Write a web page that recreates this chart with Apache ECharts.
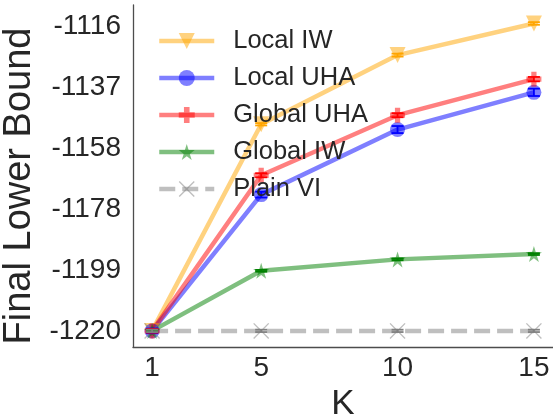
<!DOCTYPE html>
<html>
<head>
<meta charset="utf-8">
<script src="https://cdn.jsdelivr.net/npm/echarts@6/dist/echarts.min.js"></script>
<style>
html,body{margin:0;padding:0;background:#fff;}
#chart{width:553px;height:415px;}
</style>
</head>
<body>
<div id="chart"></div>
<script>
// ---- data ----
var kValues = [1, 5, 10, 15];
var localIW   = [-1220, -1149.5, -1125.9, -1115.1];
var localUHA  = [-1220, -1173.5, -1151.3, -1138.6];
var globalUHA = [-1220, -1166.9, -1146.4, -1134.1];
var globalIW  = [-1220, -1199.5, -1195.6, -1193.8];
var plainVI   = [-1220, -1220, -1220, -1220];
var localIWErr   = [0.4, 0.4, 0.5, 0.45];
var localUHAErr  = [0.8, 1.0, 1.2, 1.25];
var globalUHAErr = [0.6, 0.7, 0.7, 0.75];
var globalIWErr  = [0.3, 0.3, 0.3, 0.3];
var plainVIErr   = [0.4, 0.4, 0.4, 0.4];
var yTicks = [-1220, -1199.2, -1178.4, -1157.6, -1136.8, -1116];
var xTicks = [1, 5, 10, 15];
var seriesNames = ['Local IW', 'Local UHA', 'Global UHA', 'Global IW', 'Plain VI'];

var FONT = 'Liberation Sans';
var starPath = 'path://M0,-1L0.2245,-0.309L0.951,-0.309L0.363,0.118L0.588,0.809L0,0.382L-0.588,0.809L-0.363,0.118L-0.951,-0.309L-0.2245,-0.309Z';
var plusPath = 'path://M-0.35,-1H0.35V-0.35H1V0.35H0.35V1H-0.35V0.35H-1V-0.35H-0.35Z';
var xPath = 'path://M-1,-0.88L-0.88,-1L0,-0.12L0.88,-1L1,-0.88L0.12,0L1,0.88L0.88,1L0,0.12L-0.88,1L-1,0.88L-0.12,0Z';

var defs = [
  {name: seriesNames[0], vals: localIW, err: localIWErr, line: 'rgba(255,165,0,0.5)', cap: '#FFA500', symbol: 'triangle', rotate: 180, size: 16, dash: 'solid'},
  {name: seriesNames[1], vals: localUHA, err: localUHAErr, line: 'rgba(0,0,255,0.5)', cap: '#0000FF', symbol: 'circle', rotate: 0, size: 15, dash: 'solid'},
  {name: seriesNames[2], vals: globalUHA, err: globalUHAErr, line: 'rgba(255,0,0,0.5)', cap: '#FF0000', symbol: plusPath, rotate: 0, size: 15, dash: 'solid'},
  {name: seriesNames[3], vals: globalIW, err: globalIWErr, line: 'rgba(0,128,0,0.5)', cap: '#008000', symbol: starPath, rotate: 0, size: 16, dash: 'solid'},
  {name: seriesNames[4], vals: plainVI, err: plainVIErr, line: 'rgba(128,128,128,0.5)', cap: '#808080', symbol: xPath, rotate: 0, size: 16, dash: [16, 7]}
];

var series = [];
defs.forEach(function (d) {
  series.push({
    name: d.name,
    type: 'line',
    data: kValues.map(function (k, i) { return [k, d.vals[i]]; }),
    symbol: d.symbol,
    symbolRotate: d.rotate,
    symbolSize: d.size,
    showSymbol: true,
    lineStyle: {color: d.line, width: 4.5, type: d.dash},
    itemStyle: {color: d.line, borderWidth: 0},
    emphasis: {disabled: true},
    z: 2
  });
});
defs.forEach(function (d) {
  series.push({
    type: 'custom',
    silent: true,
    z: 3,
    data: kValues.map(function (k, i) { return [k, d.vals[i], d.err[i]]; }),
    renderItem: function (params, api) {
      var x = api.value(0), y = api.value(1), e = api.value(2);
      var top = api.coord([x, y + e]);
      var bot = api.coord([x, y - e]);
      var hw = 6;
      var st = {stroke: d.cap, lineWidth: 1.8};
      return {
        type: 'group',
        children: [
          {type: 'line', shape: {x1: top[0], y1: top[1], x2: bot[0], y2: bot[1]}, style: st},
          {type: 'line', shape: {x1: top[0] - hw, y1: top[1], x2: top[0] + hw, y2: top[1]}, style: st},
          {type: 'line', shape: {x1: bot[0] - hw, y1: bot[1], x2: bot[0] + hw, y2: bot[1]}, style: st}
        ]
      };
    }
  });
});

var chart = echarts.init(document.getElementById('chart'), null, {renderer: 'canvas'});
chart.setOption({
  animation: false,
  backgroundColor: '#fff',
  grid: {left: 133, right: 0, top: 5, bottom: 68, containLabel: false, outerBoundsMode: 'none'},
  legend: {
    data: seriesNames,
    orient: 'vertical',
    left: 157,
    top: 28,
    padding: 0,
    itemWidth: 55,
    itemHeight: 20,
    itemGap: 11,
    lineStyle: {width: 4.5},
    textStyle: {fontFamily: FONT, fontSize: 25.5, color: '#262626', padding: [0, 0, 0, 14]},
    selectedMode: false
  },
  xAxis: {
    type: 'value',
    min: 0.3,
    max: 15.7,
    name: 'K',
    nameLocation: 'middle',
    nameGap: 38,
    nameTextStyle: {fontFamily: FONT, fontSize: 35, color: '#262626', verticalAlign: 'top'},
    axisLine: {show: true, lineStyle: {color: '#4d4d4d', width: 1.3}},
    axisTick: {show: false},
    splitLine: {show: false},
    axisLabel: {
      customValues: xTicks,
      fontFamily: FONT, fontSize: 28, color: '#262626', margin: 7
    }
  },
  yAxis: {
    type: 'value',
    min: -1225.5,
    max: -1108.8,
    name: 'Final Lower Bound',
    nameLocation: 'middle',
    nameRotate: 90,
    nameGap: 92,
    nameTextStyle: {fontFamily: FONT, fontSize: 38, color: '#262626', padding: [0, 20, 0, 0]},
    axisLine: {show: true, lineStyle: {color: '#4d4d4d', width: 1.3}},
    axisTick: {show: false},
    splitLine: {show: false},
    axisLabel: {
      customValues: yTicks,
      formatter: function (v) { return String(Math.round(v)); },
      fontFamily: FONT, fontSize: 28, color: '#262626', margin: 12
    }
  },
  series: series
});
</script>
</body>
</html>
